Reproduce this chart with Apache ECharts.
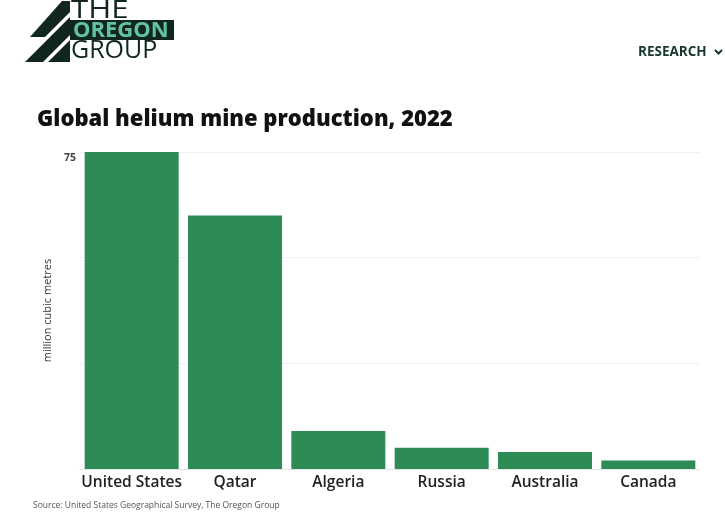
<!DOCTYPE html>
<html>
<head>
<meta charset="utf-8">
<script src="https://cdn.jsdelivr.net/npm/echarts@6/dist/echarts.min.js"></script>
<style>
html,body{margin:0;padding:0;background:#fff;}
#chart{width:725px;height:524px;}
</style>
</head>
<body>
<div id="chart"></div>
<script>
const categories = ['United States', 'Qatar', 'Algeria', 'Russia', 'Australia', 'Canada'];
const production = [75, 60, 9, 5, 4, 2];
const yTickLabels = ['75'];

const FONT = '"Open Sans", "DejaVu Sans", sans-serif';
const DARK = '#10261f';

const chart = echarts.init(document.getElementById('chart'), null, {renderer: 'canvas'});
chart.setOption({
  backgroundColor: '#ffffff',
  animation: false,
  grid: {left: 80, right: 25, top: 152, bottom: 55, containLabel: false},
  title: {
    text: 'Global helium mine production, 2022',
    left: 32, top: 104,
    textStyle: {fontFamily: FONT, fontSize: 22, fontWeight: 800, color: '#111'}
  },
  xAxis: {
    type: 'category',
    data: categories,
    axisTick: {show: false},
    axisLine: {show: true, lineStyle: {color: '#e4e4e4', width: 1}},
    axisLabel: {interval: 0, margin: 6, fontFamily: FONT, fontSize: 15.5, fontWeight: 600, color: '#222'}
  },
  yAxis: {
    type: 'value',
    min: 0, max: 75, interval: 25,
    name: 'million cubic metres',
    nameLocation: 'middle',
    nameGap: 19,
    nameRotate: 90,
    nameTextStyle: {fontFamily: FONT, fontSize: 11, fontWeight: 500, color: '#333'},
    axisLine: {show: false},
    axisTick: {show: false},
    axisLabel: {
      margin: 4, fontFamily: FONT, fontSize: 10.5, fontWeight: 700, color: '#444',
      verticalAlign: 'top', padding: [1, 0, 0, 0],
      formatter: v => yTickLabels.includes(String(v)) ? String(v) : ''
    },
    splitLine: {lineStyle: {color: '#f0f0f0', width: 1}}
  },
  series: [{
    type: 'bar',
    data: production,
    barWidth: 94,
    itemStyle: {color: '#2d8b55'}
  }],
  graphic: [
    {type: 'polygon', shape: {points: [[62,1],[70,1],[70,12],[45,37],[30,37]]}, style: {fill: DARK}},
    {type: 'polygon', shape: {points: [[70,17],[70,35],[43,62],[25,62]]}, style: {fill: DARK}},
    {type: 'polygon', shape: {points: [[70,40],[70,62],[48,62]]}, style: {fill: DARK}},
    {type: 'rect', shape: {x: 70, y: 20, width: 104, height: 20}, style: {fill: DARK}},
    {type: 'text', x: 71, y: 11, scaleX: 1.25, style: {text: 'THE', fontFamily: FONT, fontSize: 25, fontWeight: 400, fill: DARK, verticalAlign: 'middle'}},
    {type: 'text', x: 73, y: 30.5, style: {text: 'OREGON', fontFamily: FONT, fontSize: 22, fontWeight: 700, fill: '#62c3a3', verticalAlign: 'middle'}},
    {type: 'text', x: 71, y: 51, style: {text: 'GROUP', fontFamily: FONT, fontSize: 25, fontWeight: 400, fill: DARK, verticalAlign: 'middle'}},
    {type: 'text', x: 638, y: 52, style: {text: 'RESEARCH', fontFamily: FONT, fontSize: 13.5, fontWeight: 700, fill: '#17392d', verticalAlign: 'middle'}},
    {type: 'polyline', shape: {points: [[715,50],[718.5,53.5],[722,50]]}, style: {stroke: '#17392d', lineWidth: 2, fill: null}},
    {type: 'text', left: 33, top: 501, style: {text: 'Source: United States Geographical Survey, The Oregon Group', fontFamily: FONT, fontSize: 8.5, fill: '#555'}}
  ]
});
</script>
</body>
</html>
